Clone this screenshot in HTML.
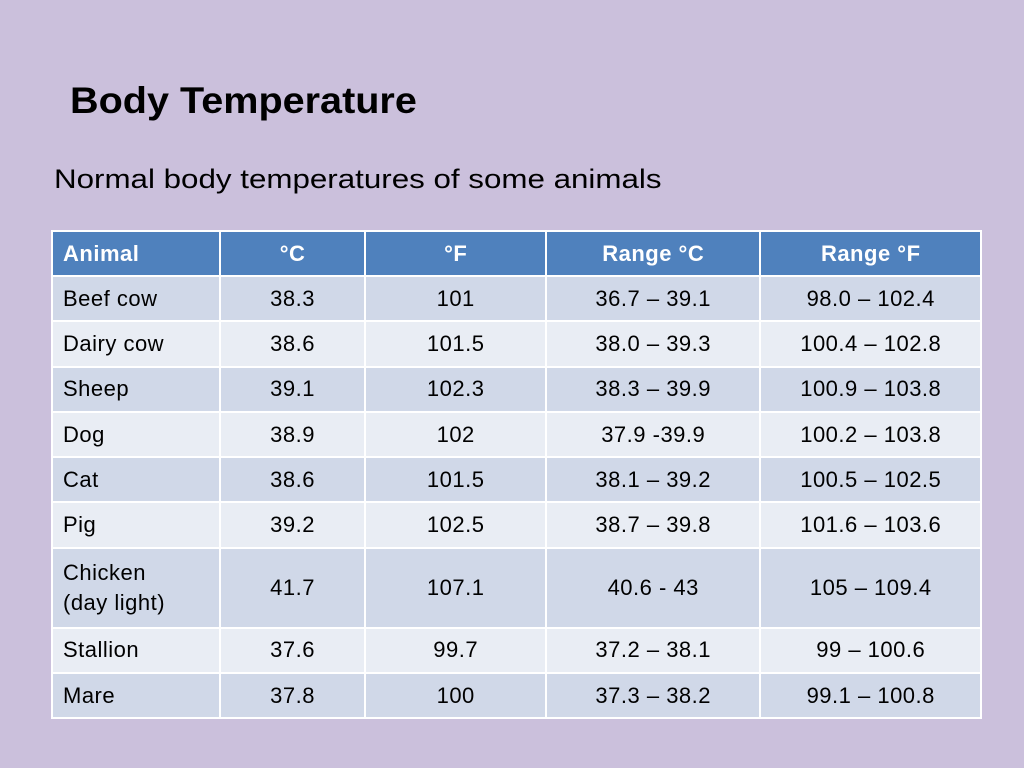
<!DOCTYPE html>
<html><head><style>
body{margin:0;width:1024px;height:768px;background:#cbc0dc;font-family:"Liberation Sans",sans-serif;position:relative;overflow:hidden}
h1{position:absolute;left:70px;top:80px;margin:0;font-size:37px;font-weight:bold;color:#000;transform:scaleX(1.07);transform-origin:left}
.sub{position:absolute;left:54px;top:164px;font-size:27px;color:#000;transform:scaleX(1.16);transform-origin:left}
table{position:absolute;left:51px;top:230px;width:931px;border-collapse:collapse;font-size:22px;color:#000;letter-spacing:0.5px}
td,th{border:2px solid #fff;padding:0 10px;text-align:center;height:43.3px}
th{background:#4f81bd;color:#fff;font-weight:bold;height:43px}
td:first-child,th:first-child{text-align:left}
tr:nth-child(even) td{background:#d0d8e8}
tr:nth-child(odd) td{background:#e9edf4}
tr.tall td{height:78px;line-height:30px}
</style></head><body>
<h1>Body Temperature</h1>
<div class="sub">Normal body temperatures of some animals</div>
<table>
<colgroup><col style="width:168px"><col style="width:146px"><col style="width:181px"><col style="width:215px"><col style="width:221px"></colgroup>
<tr><th>Animal</th><th>°C</th><th>°F</th><th>Range °C</th><th>Range °F</th></tr>
<tr><td>Beef cow</td><td>38.3</td><td>101</td><td>36.7 – 39.1</td><td>98.0 – 102.4</td></tr>
<tr><td>Dairy cow</td><td>38.6</td><td>101.5</td><td>38.0 – 39.3</td><td>100.4 – 102.8</td></tr>
<tr><td>Sheep</td><td>39.1</td><td>102.3</td><td>38.3 – 39.9</td><td>100.9 – 103.8</td></tr>
<tr><td>Dog</td><td>38.9</td><td>102</td><td>37.9 -39.9</td><td>100.2 – 103.8</td></tr>
<tr><td>Cat</td><td>38.6</td><td>101.5</td><td>38.1 – 39.2</td><td>100.5 – 102.5</td></tr>
<tr><td>Pig</td><td>39.2</td><td>102.5</td><td>38.7 – 39.8</td><td>101.6 – 103.6</td></tr>
<tr class="tall"><td>Chicken<br>(day light)</td><td>41.7</td><td>107.1</td><td>40.6 - 43</td><td>105 – 109.4</td></tr>
<tr><td>Stallion</td><td>37.6</td><td>99.7</td><td>37.2 – 38.1</td><td>99 – 100.6</td></tr>
<tr><td>Mare</td><td>37.8</td><td>100</td><td>37.3 – 38.2</td><td>99.1 – 100.8</td></tr>
</table>
</body></html>
